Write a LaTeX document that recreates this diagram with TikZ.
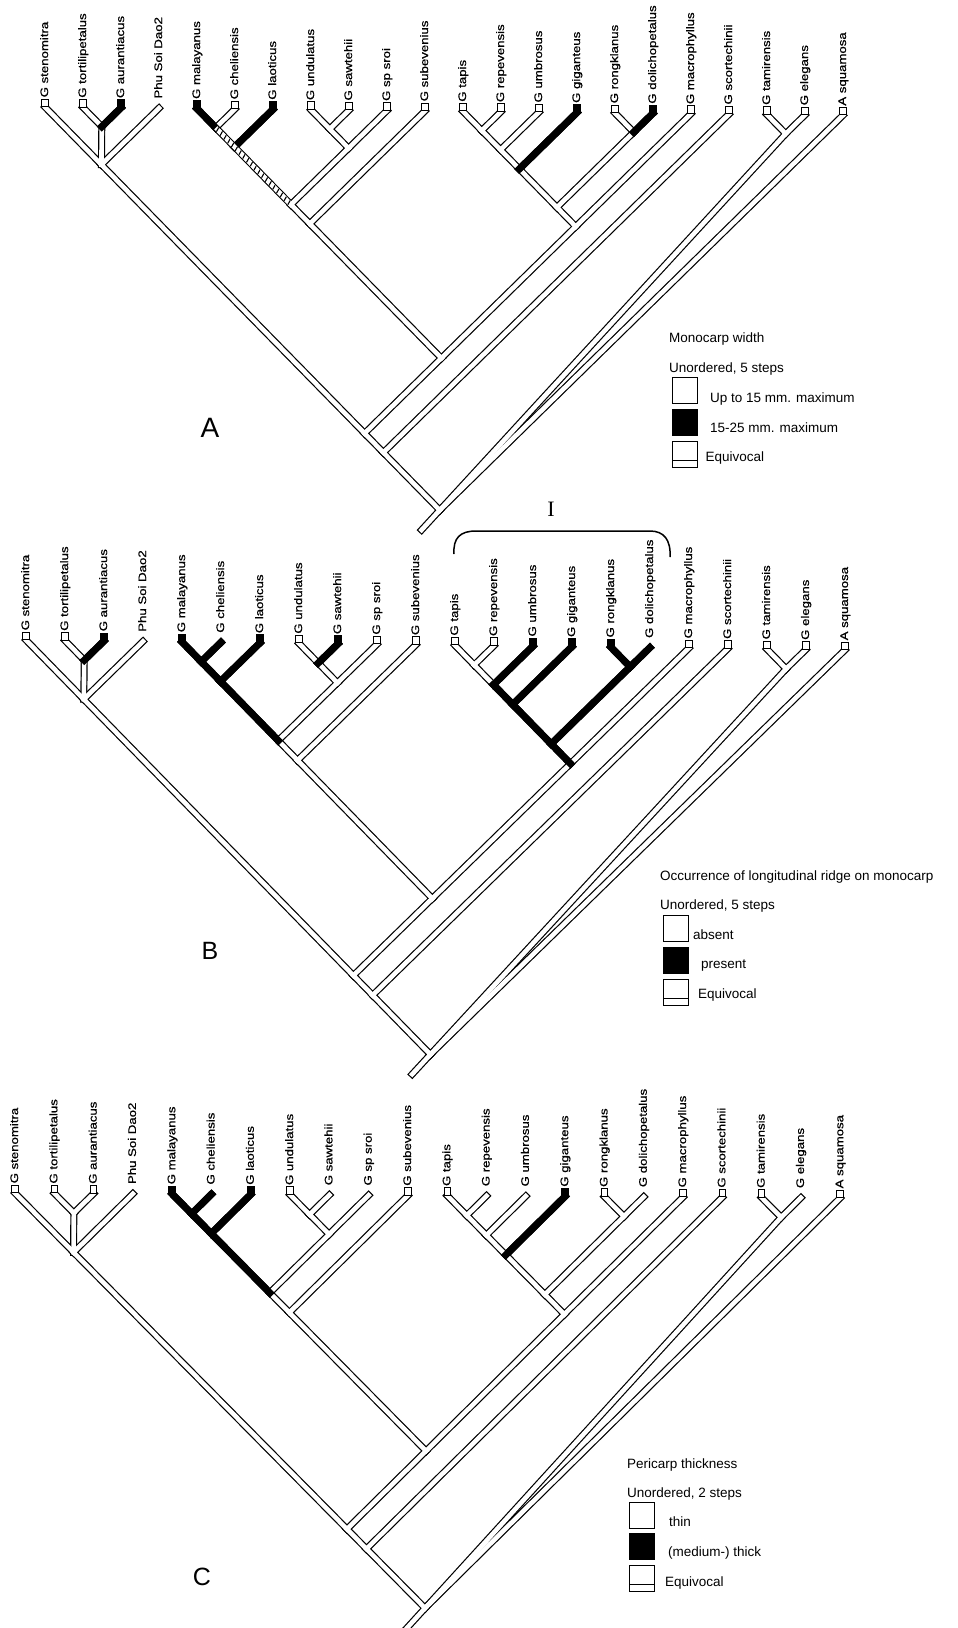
\documentclass[tikz,border=0pt]{standalone}
\usepackage{fontspec}
\setmainfont{Liberation Sans}
\newfontfamily\serfont{Liberation Serif}
\newfontfamily\labfont[FakeBold=0.6]{Liberation Sans}
\tikzset{
  brout/.style={line width=7pt, line cap=rect, black},
  brin/.style={line width=4.6pt, line cap=rect, white},
  brblk/.style={line width=7pt, line cap=rect, black},
  tipw/.style={draw, fill=white, line width=0.9pt, minimum width=6.5pt, minimum height=7.5pt, inner sep=0pt, anchor=south},
  tipb/.style={tipw, fill=black},
  tlab/.style={rotate=90, anchor=west, inner sep=0pt, font=\labfont\fontsize{11}{12}\selectfont, text height=8pt, text depth=2pt},
  legbox/.style={draw, line width=1.2pt, fill=white, minimum width=25pt, minimum height=26pt, inner sep=0pt, anchor=north west},
  legtxt/.style={anchor=base west, inner sep=0pt, font=\fontsize{13.5}{15}\selectfont},
  panel/.style={inner sep=0pt},
}
\newcommand\clade[4]{\coordinate (#1#2) at ({(#3+#4)/2*\dd},{(#4-#3)/2*\dd});}
\newcommand\buildtree[1]{%
  \foreach \i in {0,...,21}{\coordinate (#1t\i) at ({\i*\dd},0); \coordinate (#1L\i) at ({\i*\dd},-9.5);}
  \clade{#1}{ta}{1}{2}
  \clade{#1}{s3}{0}{3}
  \clade{#1}{mc}{4}{5}
  \clade{#1}{ml}{4}{6}
  \clade{#1}{us}{7}{8}
  \clade{#1}{usr}{7}{9}
  \clade{#1}{mr}{4}{9}
  \clade{#1}{msub}{4}{10}
  \clade{#1}{tr}{11}{12}
  \clade{#1}{tru}{11}{13}
  \clade{#1}{trug}{11}{14}
  \clade{#1}{rd}{15}{16}
  \clade{#1}{td}{11}{16}
  \clade{#1}{tm}{11}{17}
  \clade{#1}{mm}{4}{17}
  \clade{#1}{sm}{0}{17}
  \clade{#1}{ss}{0}{18}
  \clade{#1}{te}{19}{20}
  \clade{#1}{rt}{0}{21}
  \coordinate (#1stem) at ({10.5*\dd-18},{10.5*\dd+20});
}
\newcommand\allbr[2]{%
  \foreach \u/\v in {t0/s3,t1/ta,t2/ta,ta/s3,t3/s3,s3/sm,t4/mc,t5/mc,mc/ml,t6/ml,ml/mr,t7/us,t8/us,us/usr,t9/usr,usr/mr,mr/msub,t10/msub,msub/mm,t11/tr,t12/tr,tr/tru,t13/tru,tru/trug,t14/trug,trug/td,t15/rd,t16/rd,rd/td,td/tm,t17/tm,tm/mm,mm/sm,sm/ss,t18/ss,ss/rt,t19/te,t20/te,te/rt,t21/rt,rt/stem}
  {\draw[#2] (#1\u) -- (#1\v);}%
}
\def\taxa{0/G stenomitra,1/G tortilipetalus,2/G aurantiacus,3/Phu Soi Dao2,4/G malayanus,5/G cheliensis,6/G laoticus,7/G undulatus,8/G sawtehii,9/G sp sroi,10/G subevenius,11/G tapis,12/G repevensis,13/G umbrosus,14/G giganteus,15/G rongklanus,16/G dolichopetalus,17/G macrophyllus,18/G scortechinii,19/G tamirensis,20/G elegans,21/A squamosa}
\newcommand\tiplabels[1]{\foreach \i/\nm in \taxa {\node[tlab] (#1l\i) at (#1L\i) {\scalebox{1.2}[1]{\nm}};}}
\newcommand\wbox[2]{\foreach \i in {#2}{\node[tipw] (#1b\i) at (#1t\i) {};}}
\newcommand\bbox[2]{\foreach \i in {#2}{\node[tipb] (#1b\i) at (#1t\i) {};}}
\newcommand\blk[2]{\foreach \u/\v in {#2}{\draw[brblk] (#1\u) -- (#1\v);}}
\begin{document}
\begin{tikzpicture}[x=1pt,y=-1pt]
\useasboundingbox[fill=white] (0,0) rectangle (958,1628);

% ---------------- Tree A ----------------
\begin{scope}[shift={(45,107)}, rotate=-0.6]
  \def\dd{38}
  \buildtree{a}
  \allbr{a}{brout}
  \allbr{a}{brin}
  \blk{a}{t2/ta,t4/mc,t6/ml,t14/trug,t16/rd}
  \begin{scope}
    \clip ({4.5*\dd+1.6},{0.5*\dd-1.6}) -- ({6.5*\dd+1.6},{2.5*\dd-1.6}) -- ({6.5*\dd-1.6},{2.5*\dd+1.6}) -- ({4.5*\dd-1.6},{0.5*\dd+1.6}) -- cycle;
    \fill[white] ({4.5*\dd-10},{0.5*\dd-10}) rectangle ({6.5*\dd+10},{2.5*\dd+10});
    \foreach \s in {-2,1.8,...,80} {\draw[line width=1.1pt] ({4.5*\dd+\s-2},{0.5*\dd+\s+3.6}) -- ({4.5*\dd+\s+2},{0.5*\dd+\s-3.6});}
  \end{scope}
  \wbox{a}{0,1,5,7,8,9,10,11,12,13,15,17,18,19,20,21}
  \bbox{a}{2,4,6,14,16}
  \tiplabels{a}
\end{scope}

% ---------------- Tree B ----------------
\begin{scope}[shift={(26,640)}, rotate=-0.7]
  \def\dd{39}
  \buildtree{b}
  \allbr{b}{brout}
  \allbr{b}{brin}
  \blk{b}{t2/ta,t4/mc,t5/mc,mc/ml,t6/ml,ml/mr,t8/us,t13/tru,tru/trug,t14/trug,trug/td,t15/rd,t16/rd,rd/td,td/tm}
  \wbox{b}{0,1,7,9,10,11,12,17,18,19,20,21}
  \bbox{b}{2,4,6,8,13,14,15}
  \tiplabels{b}
\end{scope}

% ---------------- Tree C ----------------
\begin{scope}[shift={(15,1193)}, rotate=-0.35]
  \def\dd{39.3}
  \buildtree{c}
  \allbr{c}{brout}
  \allbr{c}{brin}
  \blk{c}{t4/mc,t5/mc,mc/ml,t6/ml,ml/mr,t14/trug}
  \wbox{c}{0,1,2,7,10,11,15,17,18,19,21}
  \bbox{c}{4,6,14}
  \tiplabels{c}
\end{scope}

% panel letters
\node[panel, font=\fontsize{28}{30}\selectfont] (pA) at (210,428) {A};
\node[panel, font=\fontsize{25}{28}\selectfont] (pB) at (210,951) {B};
\node[panel, font=\fontsize{25}{28}\selectfont] (pC) at (202,1577) {C};

% clade I bracket
\node[panel, font=\serfont\fontsize{22}{24}\selectfont] (cI) at (551,509) {I};
\draw[line width=1.5pt] (454,554) .. controls (453,538) and (460,531) .. (476,531) -- (650,531) .. controls (664,531) and (671,540) .. (670,557);

% legend A
\node[legtxt] (ta1) at (669,342.5) {Monocarp width};
\node[legtxt] (ta2) at (669,372) {Unordered, 5 steps};
\node[legbox] (lga1) at (672,377) {};
\node[legbox, fill=black] (lga2) at (672,409) {};
\node[legbox] (lga3) at (672,441) {};
\draw[line width=1.2pt] (lga3.south west) ++(0,-8) -- ++(25,0);
\node[legtxt] (ta3) at (710,402.5) {Up to 15 mm. maximum};
\node[legtxt] (ta4) at (710,432) {15-25 mm. maximum};
\node[legtxt] (ta5) at (705.5,461) {Equivocal};

% legend B
\node[legtxt] (tb1) at (660,880) {Occurrence of longitudinal ridge on monocarp};
\node[legtxt] (tb2) at (660,909) {Unordered, 5 steps};
\node[legbox] (lgb1) at (663,915) {};
\node[legbox, fill=black] (lgb2) at (663,947) {};
\node[legbox] (lgb3) at (663,979) {};
\draw[line width=1.2pt] (lgb3.south west) ++(0,-8) -- ++(25,0);
\node[legtxt] (tb3) at (693,939) {absent};
\node[legtxt] (tb4) at (701,968) {present};
\node[legtxt] (tb5) at (698,998) {Equivocal};

% legend C
\node[legtxt] (tc1) at (627,1468) {Pericarp thickness};
\node[legtxt] (tc2) at (627,1497) {Unordered, 2 steps};
\node[legbox] (lgc1) at (629,1502) {};
\node[legbox, fill=black] (lgc2) at (629,1533) {};
\node[legbox] (lgc3) at (629,1565) {};
\draw[line width=1.2pt] (lgc3.south west) ++(0,-8) -- ++(25,0);
\node[legtxt] (tc3) at (669,1526) {thin};
\node[legtxt] (tc4) at (668,1556) {(medium-) thick};
\node[legtxt] (tc5) at (665,1586) {Equivocal};
\end{tikzpicture}
\end{document}
